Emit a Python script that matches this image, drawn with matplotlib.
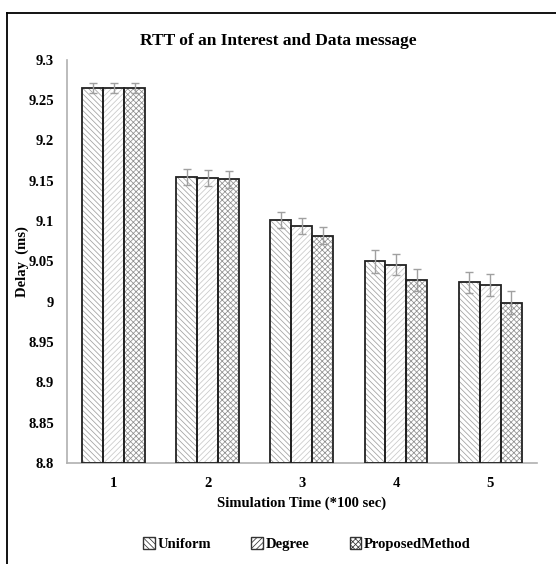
import matplotlib
matplotlib.use("Agg")
import matplotlib.pyplot as plt
import numpy as np
from matplotlib.lines import Line2D
from matplotlib.patches import Patch

plt.rcParams['font.family'] = ['Liberation Serif', 'DejaVu Serif']
plt.rcParams['font.weight'] = 'bold'
plt.rcParams['hatch.linewidth'] = 0.55

categories = ['1', '2', '3', '4', '5']
series_names = ['Uniform', 'Degree', 'ProposedMethod']
uniform = [9.265, 9.155, 9.101, 9.050, 9.024]
degree = [9.265, 9.153, 9.094, 9.046, 9.021]
proposed = [9.265, 9.152, 9.082, 9.027, 8.999]
uniform_err = [0.006, 0.010, 0.010, 0.014, 0.013]
degree_err = [0.006, 0.010, 0.010, 0.013, 0.014]
proposed_err = [0.006, 0.0105, 0.011, 0.014, 0.014]
yticks = [8.8, 8.85, 8.9, 8.95, 9.0, 9.05, 9.1, 9.15, 9.2, 9.25, 9.3]
ytick_labels = ['8.8', '8.85', '8.9', '8.95', '9', '9.05', '9.1', '9.15', '9.2', '9.25', '9.3']

fig = plt.figure(figsize=(5.56, 5.64), dpi=100)
ax = fig.add_axes([0.12, 0.179, 0.846, 0.715])

x = np.arange(len(categories))
w = 0.223
values = [uniform, degree, proposed]
errs = [uniform_err, degree_err, proposed_err]
hatches = ['\\\\\\\\\\\\', '//////', 'xxxxxx']
hatch_colors = ['#a0a0a0', '#c8c8c8', '#909090']
for i, (vals, er, h, hc) in enumerate(zip(values, errs, hatches, hatch_colors)):
    pos = x + (i - 1) * w
    bottoms = 8.8
    ax.bar(pos, np.array(vals) - bottoms, w, bottom=bottoms, facecolor='white',
           edgecolor=hc, hatch=h, linewidth=0, zorder=2)
    ax.bar(pos, np.array(vals) - bottoms, w, bottom=bottoms, facecolor='none',
           edgecolor='#222222', linewidth=1.3, zorder=3)
    ax.errorbar(pos, vals, yerr=er, fmt='none', ecolor='#a0a0a0', elinewidth=1.0,
                capsize=3, capthick=1.0, zorder=4)

ax.set_xlim(-0.5, 4.5)
ax.set_ylim(8.8, 9.3)
ax.set_yticks(yticks)
ax.set_yticklabels(ytick_labels, fontsize=10.5, fontweight='bold')
ax.set_xticks(x)
ax.set_xticklabels(categories, fontsize=10.5, fontweight='bold')
ax.tick_params(axis='both', length=0)
ax.tick_params(axis='y', pad=9)
ax.tick_params(axis='x', pad=10)
for s in ['top', 'right']:
    ax.spines[s].set_visible(False)
for s in ['left', 'bottom']:
    ax.spines[s].set_color('#b0b0b0')
    ax.spines[s].set_linewidth(1.2)

ax.set_xlabel('Simulation Time (*100 sec)', fontsize=10.5, fontweight='bold', labelpad=5)
ax.set_ylabel('Delay  (ms)', fontsize=10.5, fontweight='bold')
ax.yaxis.set_label_coords(-0.08, 0.5)
fig.text(0.5, 0.928, 'RTT of an Interest and Data message', ha='center', va='center',
         fontsize=12.5, fontweight='bold')

handles = [Patch(facecolor='white', edgecolor='#333333', hatch=h, linewidth=1.0) for h in hatches]
fig.legend(handles, series_names, loc='center', bbox_to_anchor=(0.552, 0.035), ncol=3,
           frameon=False, handlelength=0.8, handleheight=0.8,
           handletextpad=0.2, columnspacing=2.75, prop={'weight': 'bold', 'size': 10.5})

# figure border (left and top)
fig.add_artist(Line2D([7/556, 7/556], [0, 1 - 12.5/564], color='black', linewidth=1.3))
fig.add_artist(Line2D([7/556, 1], [1 - 12.5/564, 1 - 12.5/564], color='black', linewidth=1.3))

fig.savefig('out.png', dpi=100)
